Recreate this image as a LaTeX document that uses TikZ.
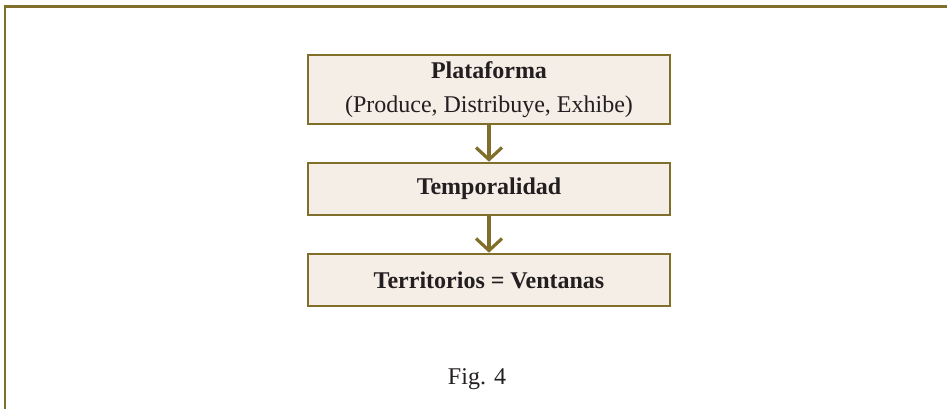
\documentclass[tikz,border=0pt]{standalone}
\usepackage{fontspec}
\setmainfont{Liberation Serif}
\usetikzlibrary{arrows.meta}
\definecolor{olive}{HTML}{806F2B}
\definecolor{boxfill}{HTML}{F4EEE7}
\definecolor{ink}{HTML}{231F20}
\begin{document}
\begin{tikzpicture}[x=1pt,y=-1pt,
  stepbox/.style={draw=olive, fill=boxfill, line width=2.6pt, minimum width=362pt,
    inner sep=0pt, align=center, text=ink, font=\fontsize{24}{34}\selectfont},
  flow/.style={draw=olive, line width=3.2pt,
    -{Straight Barb[length=12pt,width=26pt,line width=3.2pt]}}]
\useasboundingbox (0,0) rectangle (947,409);
\draw[olive, line width=2.6pt] (5,409) -- (5,6.5) -- (947,6.5);
\node[stepbox, minimum height=69pt] (p) at (489,89.5) {\textbf{Plataforma}\\(Produce, Distribuye, Exhibe)};
\node[stepbox, minimum height=52pt] (t) at (489,189) {\textbf{Temporalidad}};
\node[stepbox, minimum height=52pt] (v) at (489,280) {\textbf{Territorios = Ventanas}};
\node[text=ink, font=\fontsize{24}{29}\selectfont] (f) at (477,379) {Fig. 4};
\draw[flow] (p.south) -- (t.north);
\draw[flow] (t.south) -- (v.north);
\end{tikzpicture}
\end{document}
